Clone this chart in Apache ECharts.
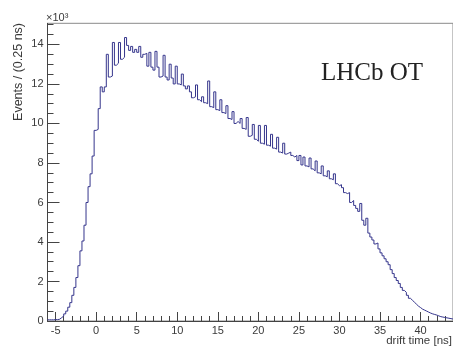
<!DOCTYPE html>
<html>
<head>
<meta charset="UTF-8">
<title>LHCb OT drift time</title>
<script src="https://cdn.jsdelivr.net/npm/echarts@6/dist/echarts.min.js"></script>
<style>
  html, body { margin: 0; padding: 0; background: #ffffff; }
  #chart { width: 453px; height: 349px; }
</style>
</head>
<body>
<div id="chart"></div>
<script>
// histogram: 200 bins of 0.25 ns starting at -6 ns, counts in units of 10^3
const binStart = -6;
const binWidth = 0.25;
const counts = [
  0.06, 0.06, 0.06, 0.07, 0.07, 0.09, 0.17, 0.25, 0.36, 0.5, 0.7, 0.93, 1.3, 1.7, 2.2, 2.8, 3.55, 4.05, 4.85, 6.0,
  6.8, 7.45, 8.35, 9.65, 9.7, 10.75, 11.85, 11.6, 11.85, 13.5, 12.35, 12.4, 14.1, 12.95, 13.05, 14.1, 13.25, 13.35, 14.35, 13.95,
  13.7, 13.9, 13.6, 13.75, 13.6, 13.9, 13.35, 13.5, 13.55, 12.9, 13.6, 12.85, 12.7, 13.65, 12.85, 12.35, 12.4, 13.45, 12.35, 12.2,
  13.0, 12.3, 12.0, 12.9, 12.0, 11.95, 12.5, 11.9, 11.75, 11.9, 11.6, 11.3, 11.35, 11.95, 11.2, 11.1, 11.35, 11.05, 11.0, 12.15,
  10.85, 10.8, 11.6, 10.7, 10.65, 11.2, 10.55, 10.5, 10.9, 10.25, 10.2, 10.6, 10.0, 10.1, 10.0, 10.25, 9.75, 9.7, 10.3, 9.35,
  9.4, 9.95, 9.2, 9.1, 9.9, 9.0, 8.95, 9.9, 8.9, 8.85, 9.45, 8.75, 8.7, 9.3, 8.55, 8.5, 9.0, 8.45, 8.5, 8.55,
  8.38, 8.3, 8.38, 8.12, 8.38, 7.9, 8.3, 7.85, 7.8, 8.25, 7.7, 7.6, 8.1, 7.5, 7.45, 7.85, 7.35, 7.3, 7.6, 7.2,
  7.15, 7.45, 6.95, 6.85, 6.9, 6.75, 6.5, 6.45, 6.5, 6.0, 6.1, 5.85, 5.7, 5.55, 5.95, 5.1, 4.85, 5.2, 4.45, 4.25,
  4.1, 3.9, 3.95, 3.65, 3.45, 3.3, 3.15, 3.0, 2.85, 2.6, 2.4, 2.2, 2.05, 1.9, 1.7, 1.55, 1.45, 1.3, 1.15, 1.05,
  0.95, 0.85, 0.75, 0.68, 0.6, 0.55, 0.5, 0.45, 0.4, 0.36, 0.33, 0.3, 0.26, 0.22, 0.2, 0.18, 0.16, 0.14, 0.12, 0.1
];
const xMajor = [-5, 0, 5, 10, 15, 20, 25, 30, 35, 40];
const yMajor = [0, 2, 4, 6, 8, 10, 12, 14];
const xMin = -6, xMax = 44;
const yMin = 0, yMax = 15.07;

// minor ticks: every 1 ns on x, every 0.5 (x10^3) on y
let xMinor = [];
for (let t = xMin; t <= xMax; t++) if (t % 5 !== 0) xMinor.push(t);
let yMinor = [];
for (let v = 0.5; v < yMax; v += 0.5) if (v % 2 !== 0) yMinor.push(v);

// step outline through left bin edges, closed at the last bin's right edge
let outline = counts.map((c, i) => [binStart + i * binWidth, c]);
outline.push([binStart + counts.length * binWidth, counts[counts.length - 1]]);

const axisColor = '#444';
const textColor = '#3a3a3a';
const sans = 'Liberation Sans, Arial, sans-serif';

let option = {
  backgroundColor: '#ffffff',
  animation: false,
  grid: {
    left: 47.5, right: -1.2, top: 23.3, bottom: 28,
    show: true, borderColor: '#8a8a8a', borderWidth: 1, backgroundColor: '#ffffff'
  },
  xAxis: [
    {
      type: 'value', min: xMin, max: xMax,
      axisLine: { show: true, onZero: false, lineStyle: { color: axisColor, width: 1 } },
      axisTick: { show: true, inside: true, length: 9, customValues: xMajor, lineStyle: { color: axisColor } },
      axisLabel: { customValues: xMajor, color: textColor, fontSize: 11, fontFamily: sans, margin: 4 },
      splitLine: { show: false }
    },
    {
      type: 'value', min: xMin, max: xMax, position: 'bottom',
      axisLine: { show: false, onZero: false },
      axisTick: { show: true, inside: true, length: 5, customValues: xMinor, lineStyle: { color: axisColor } },
      axisLabel: { show: false },
      splitLine: { show: false }
    }
  ],
  yAxis: [
    {
      type: 'value', min: yMin, max: yMax,
      axisLine: { show: true, onZero: false, lineStyle: { color: axisColor, width: 1 } },
      axisTick: { show: true, inside: true, length: 12, customValues: yMajor, lineStyle: { color: axisColor } },
      axisLabel: { customValues: yMajor, color: textColor, fontSize: 11, fontFamily: sans, margin: 4 },
      splitLine: { show: false }
    },
    {
      type: 'value', min: yMin, max: yMax, position: 'left',
      axisLine: { show: false, onZero: false },
      axisTick: { show: true, inside: true, length: 6, customValues: yMinor, lineStyle: { color: axisColor } },
      axisLabel: { show: false },
      splitLine: { show: false }
    }
  ],
  graphic: [
    {
      type: 'text', x: 46, y: 23,
      style: { text: '×10³', fill: textColor, fontSize: 11, fontFamily: sans, align: 'left', verticalAlign: 'bottom' }
    },
    {
      type: 'text', x: 19, y: 23, rotation: Math.PI / 2,
      style: { text: 'Events / (0.25 ns)', fill: textColor, fontSize: 12.5, fontFamily: sans, align: 'right', verticalAlign: 'middle' }
    },
    {
      type: 'text', x: 452, y: 341,
      style: { text: 'drift time [ns]', fill: textColor, fontSize: 11.5, fontFamily: sans, align: 'right', verticalAlign: 'middle' }
    },
    {
      type: 'text', x: 372, y: 73,
      style: { text: 'LHCb OT', fill: '#222222', fontSize: 25, fontFamily: 'Liberation Serif, DejaVu Serif, serif', align: 'center', verticalAlign: 'middle' }
    }
  ],
  series: [
    {
      type: 'line',
      xAxisIndex: 0,
      yAxisIndex: 0,
      step: 'end',
      symbol: 'none',
      lineStyle: { color: '#35358c', width: 1 },
      data: outline
    }
  ]
};

let chart = echarts.init(document.getElementById('chart'));
chart.setOption(option);
</script>
</body>
</html>
